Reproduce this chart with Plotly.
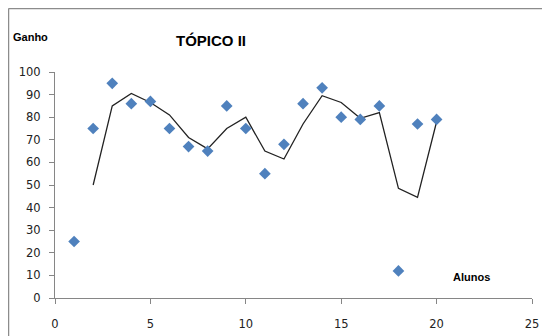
import plotly.graph_objects as go

alunos = list(range(1, 21))
ganho = [25, 75, 95, 86, 87, 75, 67, 65, 85, 75, 55, 68, 86, 93, 80, 79, 85, 12, 77, 79]
# moving-average trend line (period 2)
trend_x = list(range(2, 21))
trend_y = [50, 85, 90.5, 86.5, 81, 71, 66, 75, 80, 65, 61.5, 77, 89.5, 86.5, 79.5, 82, 48.5, 44.5, 78]

x_ticks = [0, 5, 10, 15, 20, 25]
y_ticks = list(range(0, 101, 10))

OFF = 8  # page body margin
W, H = 550 - OFF, 336 - OFF
L, T = 55 - OFF, 72 - OFF
pw, ph = 477, 226
R, B = W - L - pw, H - T - ph

def px(xp):
    return (xp - OFF - L) / pw

def py(yp):
    return 1 - (yp - OFF - T) / ph

fig = go.Figure()
fig.add_trace(go.Scatter(
    x=trend_x, y=trend_y, mode="lines",
    line=dict(color="#222222", width=1.3),
    hoverinfo="skip", showlegend=False,
))
fig.add_trace(go.Scatter(
    x=alunos, y=ganho, mode="markers",
    marker=dict(symbol="diamond", size=9, color="#4F81BD"),
    showlegend=False,
))

tickfont = dict(family="DejaVu Sans", size=11.5, color="#222222")
fig.update_layout(
    width=W, height=H, autosize=False,
    margin=dict(l=L, r=R, t=T, b=B, pad=0, autoexpand=False),
    paper_bgcolor="white", plot_bgcolor="white",
    xaxis=dict(
        range=[0, 25], tickvals=x_ticks, showgrid=False, zeroline=False,
        showline=True, linecolor="#868686", linewidth=1, automargin=False,
        ticks="outside", ticklen=5, tickcolor="#868686",
        tickfont=tickfont, ticklabelstandoff=10,
    ),
    yaxis=dict(
        range=[0, 100], tickvals=y_ticks, showgrid=False, zeroline=False,
        showline=True, linecolor="#868686", linewidth=1, automargin=False,
        ticks="outside", ticklen=5, tickcolor="#868686",
        tickfont=tickfont, ticklabelstandoff=6,
    ),
    annotations=[
        dict(text="<b>TÓPICO II</b>", x=px(211), y=py(40.5), xref="paper", yref="paper",
             xanchor="center", yanchor="middle", showarrow=False,
             font=dict(family="Liberation Sans", size=15, color="#000000")),
        dict(text="<b>Ganho</b>", x=px(30.5), y=py(36.5), xref="paper", yref="paper",
             xanchor="center", yanchor="middle", showarrow=False,
             font=dict(family="Liberation Sans", size=11, color="#000000")),
        dict(text="<b>Alunos</b>", x=px(471.5), y=py(276.7), xref="paper", yref="paper",
             xanchor="center", yanchor="middle", showarrow=False,
             font=dict(family="Liberation Sans", size=11, color="#000000")),
    ],
    shapes=[
        dict(type="line", xref="paper", yref="paper", layer="above",
             x0=px(8.5), x1=px(550), y0=py(8.5), y1=py(8.5),
             line=dict(color="#8c8c8c", width=1.5)),
        dict(type="line", xref="paper", yref="paper", layer="above",
             x0=px(8.5), x1=px(8.5), y0=py(8.5), y1=py(336),
             line=dict(color="#8c8c8c", width=1.5)),
    ],
)

fig.write_html("out.html")
